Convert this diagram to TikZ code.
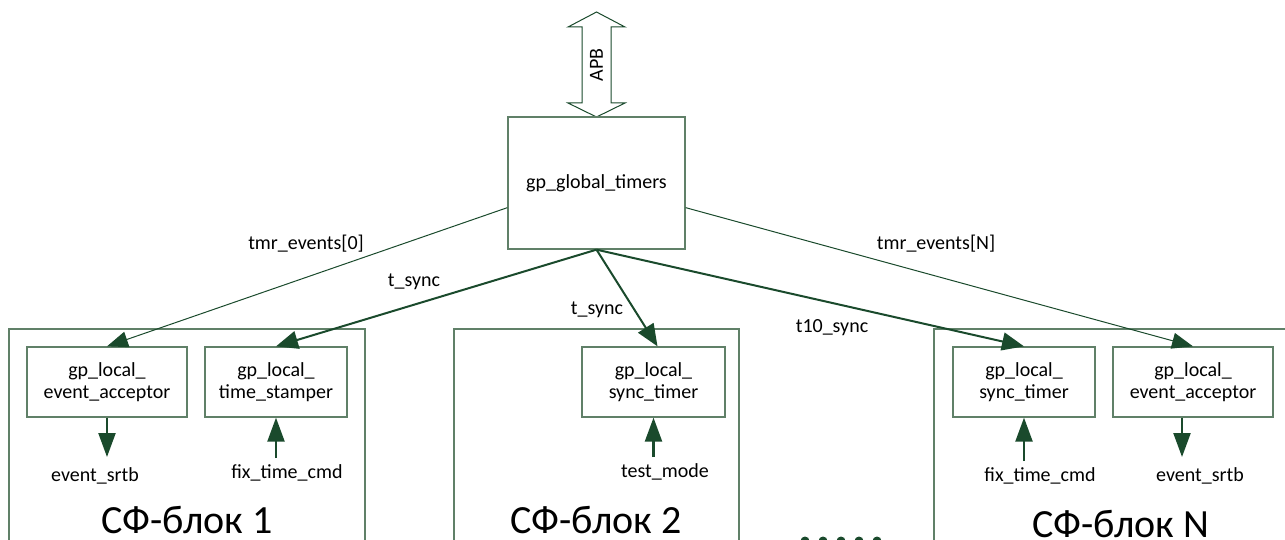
\documentclass[tikz,border=0pt]{standalone}
\usepackage{fontspec}
\setmainfont{Carlito}
\usetikzlibrary{arrows.meta}
\definecolor{wire}{RGB}{26,74,44}
\definecolor{frame}{RGB}{96,128,104}

\begin{document}
\begin{tikzpicture}[x=1pt, y=-1pt, line join=miter,
  box/.style={draw=frame, line width=1.3pt, inner sep=0pt, align=center, font=\fontsize{20}{22}\selectfont},
  lbl/.style={font=\fontsize{20}{24}\selectfont, inner sep=0pt},
  big/.style={font=\fontsize{40}{48}\selectfont, inner sep=0pt, anchor=base},
  thinwire/.style={draw=wire, line width=1pt, -{Triangle[length=21pt,width=16pt]}},
  syncwire/.style={draw=wire, line width=2pt, -{Triangle[length=22pt,width=18pt]}},
  pin/.style={draw=wire, line width=2.3pt, -{Triangle[length=24pt,width=17pt]}}]
\clip (0,0) rectangle (1285,540);
\draw[frame, line width=1.3pt] (9,329) rectangle (365,570);
\draw[frame, line width=1.3pt] (454,329) rectangle (739,570);
\draw[frame, line width=1.3pt] (934,329) rectangle (1300,570);
\draw[wire, line width=1pt, fill=white] (596.5,12) -- (625,27) -- (611,27) -- (611,103) -- (625,103) -- (596.5,117) -- (568,103) -- (582,103) -- (582,27) -- (568,27) -- cycle;
\node[lbl, rotate=90] (apb) at (596.5,65) {APB};
\node[box, minimum width=177pt, minimum height=132pt] (glob) at (596.5,183) {gp\_global\_timers};
\node[box, minimum width=160pt, minimum height=70pt] (el1) at (107,382) {gp\_local\_\\event\_acceptor};
\node[box, minimum width=142pt, minimum height=70pt] (ts1) at (276,382) {gp\_local\_\\time\_stamper};
\node[box, minimum width=143pt, minimum height=70pt] (st2) at (653.5,382) {gp\_local\_\\sync\_timer};
\node[box, minimum width=142pt, minimum height=70pt] (stN) at (1024,382) {gp\_local\_\\sync\_timer};
\node[box, minimum width=160pt, minimum height=70pt] (eaN) at (1193,382) {gp\_local\_\\event\_acceptor};
\draw[thinwire] ([yshift=42pt]glob.south west) -- (el1.north);
\draw[thinwire] ([yshift=42pt]glob.south east) -- (eaN.north);
\draw[syncwire] (glob.south) -- (ts1.north);
\draw[syncwire] (glob.south) -- ([xshift=4pt]st2.north);
\draw[syncwire] (glob.south) -- (stN.north);
\node[lbl] (ev0) at (306,244) {tmr\_events[0]};
\node[lbl] (evN) at (936,244) {tmr\_events[N]};
\node[lbl] (sy1) at (414,282) {t\_sync};
\node[lbl] (sy2) at (597,310) {t\_sync};
\node[lbl] (sy10) at (832,328) {t10\_sync};
\coordinate (p1) at (107,457);
\coordinate (p2) at (276,458);
\coordinate (p3) at (653.5,457);
\coordinate (p4) at (1024,461);
\coordinate (p5) at (1182,457);
\draw[pin] (el1.south) -- (p1);
\draw[pin] (p2) -- (ts1.south);
\draw[pin] (p3) -- (st2.south);
\draw[pin] (p4) -- (stN.south);
\draw[pin] (eaN.south -| p5) -- (p5);
\node[lbl] (es1) at (95,476) {event\_srtb};
\node[lbl] (fx1) at (287,473) {fix\_time\_cmd};
\node[lbl] (tm2) at (665,472) {test\_mode};
\node[lbl] (fxN) at (1040,476) {fix\_time\_cmd};
\node[lbl] (esN) at (1200,476) {event\_srtb};
\node[big] (b1) at (187,533) {СФ-блок 1};
\node[big] (b2) at (596,533) {СФ-блок 2};
\node[big] (bN) at (1121,537) {СФ-блок N};
\foreach \x in {805,823,841,859,877}
  \fill[wire] (\x,541) circle (4.5);
\end{tikzpicture}
\end{document}
